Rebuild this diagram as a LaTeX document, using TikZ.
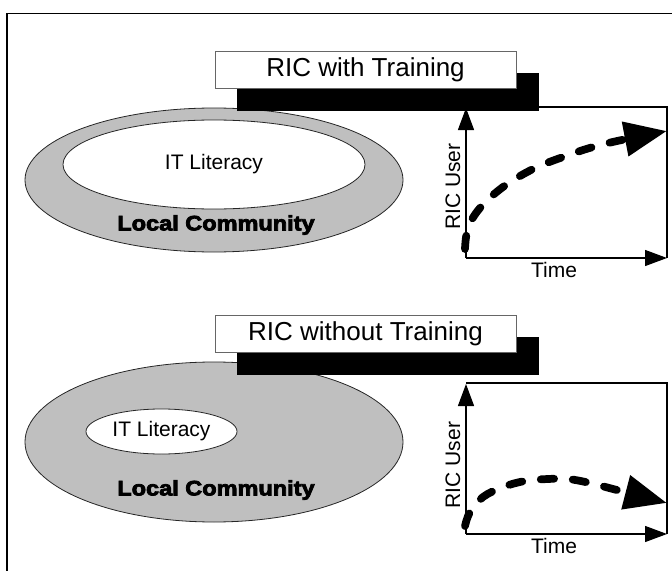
\documentclass[tikz,border=0pt]{standalone}
\usepackage{fontspec}
\setmainfont{Liberation Sans}
\newfontfamily\heavyfont{Liberation Sans}[FakeBold=3.5]
\usetikzlibrary{arrows.meta,shapes.geometric}

\tikzset{
  frameline/.style={line width=1.1pt},
  community/.style={ellipse, draw=black!85, line width=0.6pt, fill=black!25, inner sep=0pt},
  literacy/.style={ellipse, draw=black!85, line width=0.6pt, fill=white, inner sep=0pt,
    font=\fontsize{15.75}{18}\selectfont},
  titlebox/.style={draw=black!60, line width=0.7pt, fill=white, inner sep=0pt,
    minimum width=225.75pt, minimum height=27.75pt, font=\fontsize{19.5}{22}\selectfont},
  shadowbox/.style={fill=black, inner sep=0pt, minimum width=226.5pt, minimum height=28pt},
  chartframe/.style={line width=0.9pt},
  axis/.style={line width=1pt, -{Triangle[length=16.5pt,width=12pt]}},
  trend/.style={line width=5.8pt, line cap=round, dash pattern=on 10pt off 14pt,
    -{Triangle[length=32pt,width=25pt]}},
  txt/.style={inner sep=0pt, font=\fontsize{15.75}{18}\selectfont},
  commtxt/.style={inner sep=0pt, font=\heavyfont\bfseries\fontsize{15.75}{18}\selectfont},
}

\begin{document}
\begin{tikzpicture}[x=0.75pt,y=-0.75pt]
  \useasboundingbox (0,0) rectangle (672,571);

  % page frame: top and left rules
  \coordinate (fl) at (7,571);
  \coordinate (fc) at (7,13.5);
  \coordinate (fr) at (672,13.5);
  \draw[frameline] (fl) -- (fc) -- (fr);

  % ---------- with training ----------
  \node[community, minimum width=283.5pt, minimum height=108pt] (comm1) at (214,180) {};
  \node[literacy, minimum width=226.5pt, minimum height=66.75pt] (lit1) at (214,164.5) {IT Literacy};
  \node[commtxt] (commlab1) at (216,225) {\scalebox{1.12}[1]{Local Community}};

  \coordinate (o1) at (466,258);
  \coordinate (y1) at (466,108);
  \coordinate (x1) at (667,258);
  \coordinate (c1) at (667,107);
  \coordinate (t1) at (466,107);
  \draw[chartframe] (t1) -- (c1) -- (x1);
  \draw[axis] (o1) -- (y1);
  \draw[axis] (o1) -- (x1);
  \node[txt, rotate=90] (ylab1) at (453,186.5) {RIC User};
  \node[txt] (xlab1) at (554,270) {Time};
  \draw[trend] plot[smooth, tension=0.6] coordinates
    {(465,249) (468,228) (480,208) (503,187) (533,169) (563,157) (593,147) (624,139.5) (667,131)};

  \node[shadowbox] (sh1) at (387.5,92) {};
  \node[titlebox] (title1) at (365.5,69.5) {RIC with Training};

  % ---------- without training ----------
  \node[community, minimum width=283.5pt, minimum height=120pt] (comm2) at (214,442) {};
  \node[literacy, minimum width=113.25pt, minimum height=33.75pt] (lit2) at (161.5,431.5) {IT Literacy};
  \node[commtxt] (commlab2) at (216,490) {\scalebox{1.12}[1]{Local Community}};

  \coordinate (o2) at (466,534);
  \coordinate (y2) at (466,384);
  \coordinate (x2) at (667,534);
  \coordinate (c2) at (667,383);
  \coordinate (t2) at (466,383);
  \draw[chartframe] (t2) -- (c2) -- (x2);
  \draw[axis] (o2) -- (y2);
  \draw[axis] (o2) -- (x2);
  \node[txt, rotate=90] (ylab2) at (453,465) {RIC User};
  \node[txt] (xlab2) at (554,546) {Time};
  \draw[trend] plot[smooth, tension=0.6] coordinates
    {(465,526) (470,512) (483,497) (503,487) (525,481) (548,479) (568,479) (590,483) (613,489) (667,503)};

  \node[shadowbox] (sh2) at (387.5,356) {};
  \node[titlebox] (title2) at (365.5,334) {RIC without Training};
\end{tikzpicture}
\end{document}
